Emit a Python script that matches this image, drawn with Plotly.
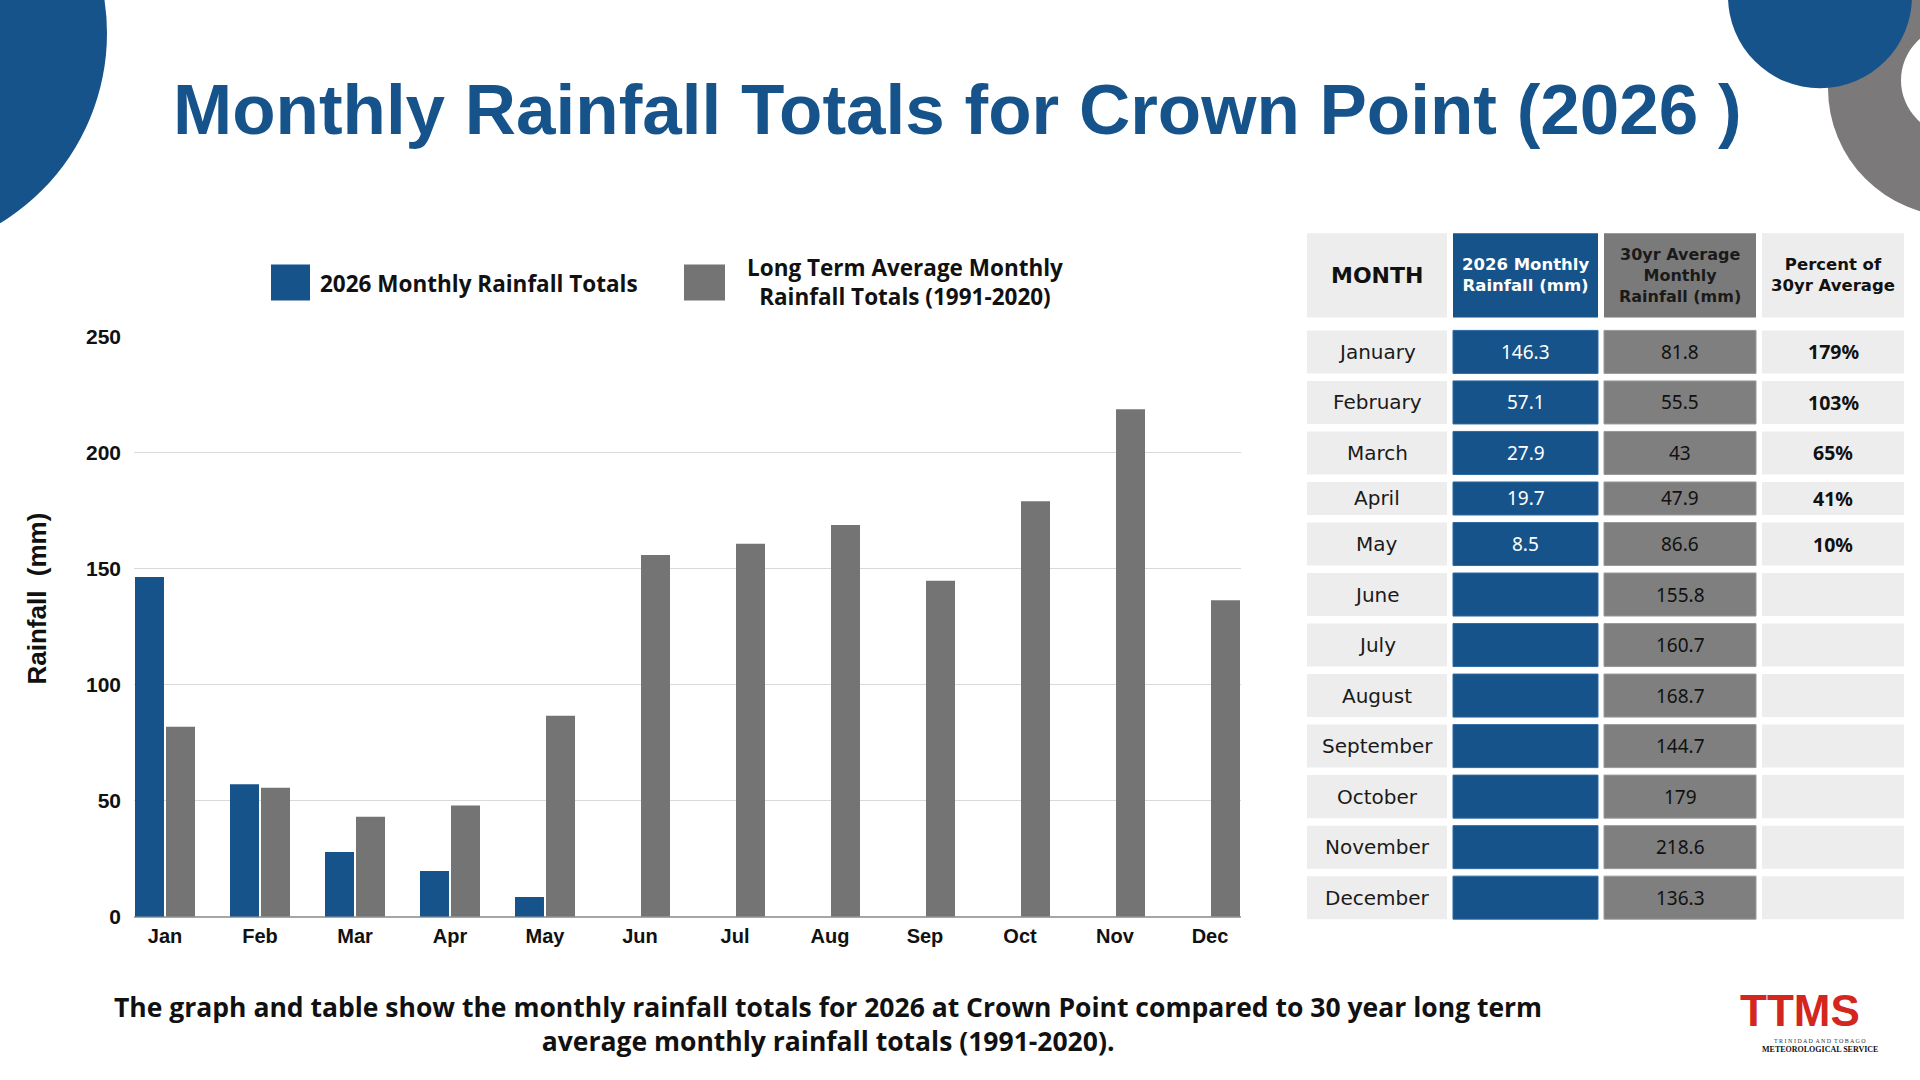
import plotly.graph_objects as go

# ---------------- data ----------------
months_short = ["Jan", "Feb", "Mar", "Apr", "May", "Jun", "Jul", "Aug", "Sep", "Oct", "Nov", "Dec"]
months_full = ["January", "February", "March", "April", "May", "June", "July",
               "August", "September", "October", "November", "December"]
rain_2026 = [146.3, 57.1, 27.9, 19.7, 8.5, None, None, None, None, None, None, None]
avg_1991_2020 = [81.8, 55.5, 43, 47.9, 86.6, 155.8, 160.7, 168.7, 144.7, 179, 218.6, 136.3]
y_ticks = [0, 50, 100, 150, 200, 250]

series_names = ["2026 Monthly Rainfall Totals", "Long Term Average Monthly<br>Rainfall Totals (1991-2020)"]
table_headers = ["MONTH", "2026 Monthly<br>Rainfall (mm)", "30yr Average<br>Monthly<br>Rainfall (mm)",
                 "Percent of<br>30yr Average"]
title_text = "Monthly Rainfall Totals for Crown Point (2026 )"
y_title = "Rainfall\u00a0\u00a0(mm)"
footer_text = ("The graph and table show the monthly rainfall totals for 2026 at Crown Point compared to 30 year long term"
               "<br>average monthly rainfall totals (1991-2020).")

# derived percent of 30yr average
percent = [f"{round(r / a * 100):d}%" if r is not None else "" for r, a in zip(rain_2026, avg_1991_2020)]


def fmt(v):
    return "" if v is None else f"{v:g}"


# ---------------- style ----------------
W, H = 1920, 1080
BLUE = "#16538a"
GRAY = "#747474"
CELL_GRAY = "#ededed"
TBL_GRAY = "#7f7f7f"
CHART_FONT = "Liberation Sans, Arial, sans-serif"
LEG_FONT = "Open Sans, sans-serif"
TXT_FONT = "DejaVu Sans, Noto Sans, sans-serif"
NUM_FONT = "Noto Sans, Open Sans, sans-serif"


def px(x):
    return x / W


def py(y):
    # target pixel row -> paper coordinate (compensates page capture offset)
    y_in = y * 1104 / 1080 - 12
    return 1 - y_in / H


fig = go.Figure()
fig.add_trace(go.Bar(x=months_short, y=rain_2026, name=series_names[0],
                     marker=dict(color=BLUE, line=dict(width=0))))
fig.add_trace(go.Bar(x=months_short, y=avg_1991_2020, name=series_names[1],
                     marker=dict(color=GRAY, line=dict(width=0))))

shapes = []
annotations = []


def circle(cx, cy, r, color):
    shapes.append(dict(type="circle", xref="paper", yref="paper", layer="below",
                       x0=px(cx - r), x1=px(cx + r), y0=py(cy + r), y1=py(cy - r),
                       fillcolor=color, line=dict(width=0)))


def text(t, x, y, size, color="#111", family=CHART_FONT, weight="normal", xanchor="center", **kw):
    annotations.append(dict(text=t, xref="paper", yref="paper", x=px(x), y=py(y),
                            xanchor=xanchor, yanchor="middle", showarrow=False, align="center",
                            font=dict(family=family, size=size, color=color, weight=weight), **kw))


# decorative circles
circle(1956, 88, 128, "#7b797a")
circle(1956, 80, 55, "white")
circle(1820, -4, 92, BLUE)
circle(-115, 33, 222, BLUE)

# title
text(title_text, 957, 109, 71, color=BLUE, weight="bold")

# custom legend
shapes.append(dict(type="rect", xref="paper", yref="paper", x0=px(271), x1=px(310), y0=py(300), y1=py(264),
                   fillcolor=BLUE, line=dict(width=0)))
shapes.append(dict(type="rect", xref="paper", yref="paper", x0=px(684), x1=px(725), y0=py(300), y1=py(264),
                   fillcolor=GRAY, line=dict(width=0)))
text(series_names[0], 318, 283, 22.5, family=LEG_FONT, weight="bold", xanchor="left")
text(series_names[1], 905, 282, 22.5, family=LEG_FONT, weight="bold")

# y-axis title
text(y_title, 37, 598, 26, weight="bold", textangle=-90)

# footer
text(footer_text, 828, 1023, 26.5, family=LEG_FONT, weight="bold")

# ---------------- table ----------------
col_x = [(1307, 1447), (1453, 1598), (1604, 1756), (1762, 1904)]
header_y = (233, 317)
row_h = [43, 43, 43, 33, 43, 43, 43, 43, 43, 43, 43, 43]
row_gap = 7.5
first_top = 330

header_fill = [CELL_GRAY, BLUE, "#7a7a7a", CELL_GRAY]
header_color = ["#111", "white", "#1a1a1a", "#111"]
header_size = [22, 16.5, 16, 16.5]
for i, (x0, x1) in enumerate(col_x):
    shapes.append(dict(type="rect", xref="paper", yref="paper", x0=px(x0), x1=px(x1),
                       y0=py(header_y[1]), y1=py(header_y[0]), fillcolor=header_fill[i],
                       line=dict(width=0)))
    text(table_headers[i], (x0 + x1) / 2, (header_y[0] + header_y[1]) / 2, header_size[i],
         color=header_color[i], family=TXT_FONT, weight="bold")

body_fill = [CELL_GRAY, BLUE, TBL_GRAY, CELL_GRAY]
body_line = [None, "#2f6aa0", "#9a9a9a", None]
body_color = ["#1a1a1a", "white", "#111", "#111"]
body_weight = ["normal", "normal", "normal", "bold"]
body_size = [20, 19, 19, 19.5]
body_font = [TXT_FONT, NUM_FONT, NUM_FONT, NUM_FONT]
columns = [months_full, [fmt(v) for v in rain_2026], [fmt(v) for v in avg_1991_2020], percent]

top = first_top
for r in range(len(months_full)):
    bot = top + row_h[r]
    for c, (x0, x1) in enumerate(col_x):
        ln = dict(width=0) if body_line[c] is None else dict(width=1, color=body_line[c])
        shapes.append(dict(type="rect", xref="paper", yref="paper", x0=px(x0), x1=px(x1),
                           y0=py(bot), y1=py(top), fillcolor=body_fill[c], line=ln))
        txt = columns[c][r]
        if txt:
            text(txt, (x0 + x1) / 2, (top + bot) / 2, body_size[c], color=body_color[c],
                 family=body_font[c], weight=body_weight[c])
    top = bot + row_gap

# logo (approximation)
text("TTMS", 1800, 1010, 44, color="#d3261f", family="Liberation Sans Narrow, Liberation Sans, sans-serif",
     weight="bold")
text("T R I N I D A D  A N D  T O B A G O", 1820, 1040, 6, color="#333", family="Liberation Serif, serif")
text("METEOROLOGICAL SERVICE", 1820, 1049, 8, color="#111", family="Liberation Serif, serif", weight="bold")

fig.update_layout(
    width=W, height=H, margin=dict(l=0, r=0, t=0, b=0),
    paper_bgcolor="white", plot_bgcolor="white",
    barmode="group", bargap=0.347, bargroupgap=0.065, showlegend=False,
    xaxis=dict(domain=[px(134), px(1241)], range=[-0.3263, 11.3263], showgrid=False, showline=False,
               ticks="", zeroline=False, fixedrange=True, ticklabelstandoff=5,
               tickfont=dict(family=CHART_FONT, size=20, color="#111", weight="bold")),
    yaxis=dict(domain=[py(916), py(336)], range=[0, 250], tickvals=y_ticks, showgrid=True,
               gridcolor="#d9d9d9", gridwidth=1, zeroline=True, zerolinecolor="#a6a6a6",
               zerolinewidth=2, showline=False, ticks="", ticklabelstandoff=12,
               tickfont=dict(family=CHART_FONT, size=21, color="#111", weight="bold")),
    shapes=shapes, annotations=annotations,
)

fig.write_html("out.html")
